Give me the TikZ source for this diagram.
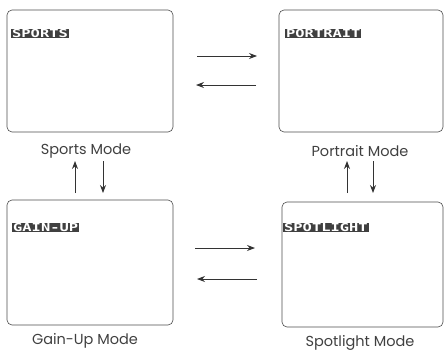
\documentclass[tikz,border=0pt]{standalone}
\usepackage{fontspec}
\setmainfont{Poppins}
\newfontfamily\badgefont[FakeStretch=1.4]{DejaVu Sans Mono Bold}
\usetikzlibrary{arrows.meta}
\tikzset{
  screen/.style={draw=black!70, line width=0.6pt, rounded corners=5pt},
  badge/.style={fill=black!75, text=white, font=\badgefont\fontsize{11}{11}\selectfont, inner xsep=1pt, inner ysep=0.6pt, anchor=west},
  modelabel/.style={font=\fontsize{14.5}{16}\selectfont, text=black!75},
  arr/.style={draw=black!80, line width=0.8pt, -{Stealth[length=8pt,width=6pt]}}
}
\begin{document}
\begin{tikzpicture}[x=1pt,y=-1pt]
\useasboundingbox (0,0) rectangle (444,351);
% screens
\draw[screen] (7,10) rectangle (173,132);
\draw[screen] (279,10) rectangle (443,132);
\draw[screen] (7,200) rectangle (173,325);
\draw[screen] (282,202) rectangle (443,327);
% badges
\node[badge] (b1) at (11,33.5) {SPORTS};
\node[badge] (b2) at (285,33.5) {PORTRAIT};
\node[badge] (b3) at (12,227.5) {GAIN-UP};
\node[badge] (b4) at (283,227.5) {SPOTLIGHT};
% labels
\node[modelabel] (l1) at (86,151) {Sports Mode};
\node[modelabel] (l2) at (360,151) {Portrait Mode};
\node[modelabel] (l3) at (85,341) {Gain-Up Mode};
\node[modelabel] (l4) at (360,343) {Spotlight Mode};
% arrow endpoints
\coordinate (h1a) at (197,56); \coordinate (h1b) at (257,56);
\coordinate (h2a) at (256,85); \coordinate (h2b) at (196,85);
\coordinate (h3a) at (195,248); \coordinate (h3b) at (255,248);
\coordinate (h4a) at (257,279); \coordinate (h4b) at (197,279);
\coordinate (v1a) at (75,193); \coordinate (v1b) at (75,161);
\coordinate (v2a) at (103,161); \coordinate (v2b) at (103,193);
\coordinate (v3a) at (347,193); \coordinate (v3b) at (347,161);
\coordinate (v4a) at (373,161); \coordinate (v4b) at (373,193);
\draw[arr] (h1a) -- (h1b);
\draw[arr] (h2a) -- (h2b);
\draw[arr] (h3a) -- (h3b);
\draw[arr] (h4a) -- (h4b);
\draw[arr] (v1a) -- (v1b);
\draw[arr] (v2a) -- (v2b);
\draw[arr] (v3a) -- (v3b);
\draw[arr] (v4a) -- (v4b);
\end{tikzpicture}
\end{document}
